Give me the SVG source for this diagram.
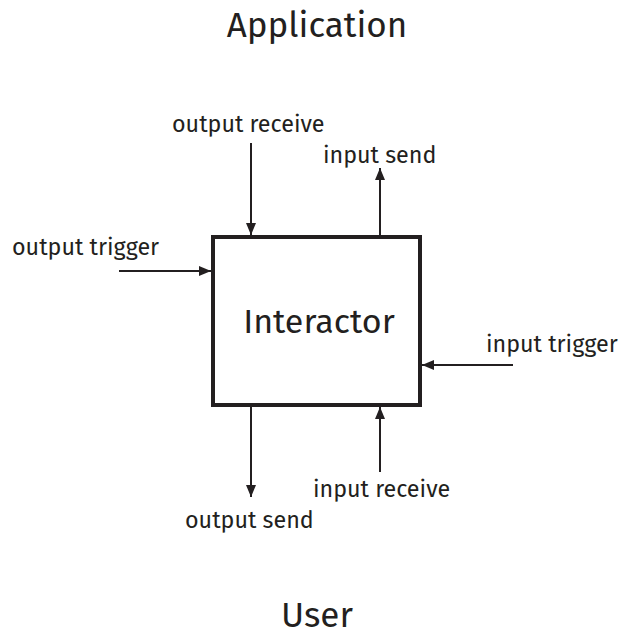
<svg xmlns="http://www.w3.org/2000/svg" width="621" height="633" viewBox="0 0 621 633">
<style>
text{font-family:"Fira Sans","Open Sans","Noto Sans",sans-serif;fill:#231f20}
.lbl{font-size:23.3px}
.big{font-size:35px}
.conn line{stroke:#231f20;stroke-width:2}
</style>
<defs>
<marker id="ah" viewBox="0 0 12 10" refX="12" refY="5" markerWidth="12" markerHeight="10" markerUnits="userSpaceOnUse" orient="auto">
<path d="M0,0 L12,5 L0,10 Z" fill="#231f20"/>
</marker>
</defs>
<rect width="621" height="633" fill="#fff"/>
<g id="application"><text class="big" x="317" y="37" text-anchor="middle">Application</text></g>
<g id="user"><text class="big" x="317" y="627" text-anchor="middle">User</text></g>
<g id="interactor">
<rect x="213" y="237" width="207" height="168" fill="#fff" stroke="#231f20" stroke-width="4"/>
<text x="319" y="333" text-anchor="middle" style="font-size:34px">Interactor</text>
</g>
<g class="conn" id="connectors">
<line x1="251" y1="143" x2="251" y2="235" marker-end="url(#ah)"/>
<line x1="380" y1="235" x2="380" y2="168" marker-end="url(#ah)"/>
<line x1="119" y1="271" x2="211" y2="271" marker-end="url(#ah)"/>
<line x1="513" y1="365" x2="422" y2="365" marker-end="url(#ah)"/>
<line x1="251" y1="407" x2="251" y2="497" marker-end="url(#ah)"/>
<line x1="380" y1="472" x2="380" y2="407" marker-end="url(#ah)"/>
</g>
<g id="labels">
<text class="lbl" x="172" y="132">output receive</text>
<text class="lbl" x="323" y="163">input send</text>
<text class="lbl" x="12" y="255">output trigger</text>
<text class="lbl" x="486" y="352">input trigger</text>
<text class="lbl" x="313" y="497">input receive</text>
<text class="lbl" x="185" y="528">output send</text>
</g>
</svg>
